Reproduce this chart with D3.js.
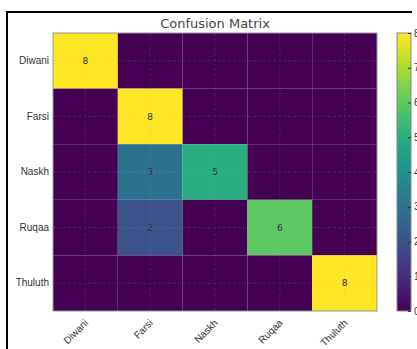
<!DOCTYPE html>
<html>
<head>
<meta charset="utf-8">
<script src="https://cdn.jsdelivr.net/npm/d3@7"></script>
<style>
body { margin: 0; background: #fff; }
svg { display: block; font-family: "DejaVu Sans", sans-serif; }
</style>
</head>
<body>
<svg id="chart" width="417" height="349"></svg>
<script>
// class labels and counts
var classes = ['Diwani', 'Farsi', 'Naskh', 'Ruqaa', 'Thuluth'];
var matrix = [
    [8, 0, 0, 0, 0],
    [0, 8, 0, 0, 0],
    [0, 3, 5, 0, 0],
    [0, 2, 0, 6, 0],
    [0, 0, 0, 0, 8]
];
var cbarTicks = [0, 1, 2, 3, 4, 5, 6, 7, 8];

var svg = d3.select('#chart');

// outer frame (top and left edges visible)
svg.append('path')
    .attr('d', 'M7,350 L7,12 L412,12')
    .attr('fill', 'none')
    .attr('stroke', '#000')
    .attr('stroke-width', 2);

var pLeft = 53, pTop = 33, pRight = 377, pBottom = 311;

var x = d3.scaleBand().domain(classes).range([pLeft, pRight]);
var y = d3.scaleBand().domain(classes).range([pTop, pBottom]);
var color = d3.scaleSequential(d3.interpolateViridis).domain([0, 8]);

var cells = [];
matrix.forEach(function(row, i) {
    row.forEach(function(v, j) {
        cells.push({ row: classes[i], col: classes[j], value: v });
    });
});

var g = svg.append('g');

g.selectAll('rect.cell')
    .data(cells)
    .enter().append('rect')
    .attr('class', 'cell')
    .attr('x', function(d) { return x(d.col); })
    .attr('y', function(d) { return y(d.row); })
    .attr('width', x.bandwidth())
    .attr('height', y.bandwidth())
    .attr('fill', function(d) { return color(d.value); });

// dashed grid through cell centres
g.selectAll('line.vgrid')
    .data(classes)
    .enter().append('line')
    .attr('x1', function(d) { return x(d) + x.bandwidth() / 2; })
    .attr('x2', function(d) { return x(d) + x.bandwidth() / 2; })
    .attr('y1', pTop).attr('y2', pBottom)
    .attr('stroke', '#b0b0b0')
    .attr('stroke-opacity', 0.22)
    .attr('stroke-dasharray', '3,2')
    .attr('stroke-width', 0.8);

g.selectAll('line.hgrid')
    .data(classes)
    .enter().append('line')
    .attr('y1', function(d) { return y(d) + y.bandwidth() / 2; })
    .attr('y2', function(d) { return y(d) + y.bandwidth() / 2; })
    .attr('x1', pLeft).attr('x2', pRight)
    .attr('stroke', '#b0b0b0')
    .attr('stroke-opacity', 0.22)
    .attr('stroke-dasharray', '3,2')
    .attr('stroke-width', 0.8);

g.selectAll('text.val')
    .data(cells)
    .enter().append('text')
    .attr('x', function(d) { return x(d.col) + x.bandwidth() / 2; })
    .attr('y', function(d) { return y(d.row) + y.bandwidth() / 2; })
    .attr('dy', '0.35em')
    .attr('text-anchor', 'middle')
    .style('font-size', '9px')
    .style('fill', function(d) { return d.value == 0 ? '#2a0a3a' : '#333'; })
    .text(function(d) { return d.value; });

// axes frame
g.append('rect')
    .attr('x', pLeft).attr('y', pTop)
    .attr('width', pRight - pLeft).attr('height', pBottom - pTop)
    .attr('fill', 'none')
    .attr('stroke', '#999')
    .attr('stroke-width', 1);

var yAxis = svg.append('g')
    .attr('transform', 'translate(' + pLeft + ',0)')
    .call(d3.axisLeft(y).tickSize(0).tickPadding(4));
yAxis.select('.domain').remove();
yAxis.selectAll('text').style('font-size', '10px').style('fill', '#333');

var xAxis = svg.append('g')
    .attr('transform', 'translate(0,' + pBottom + ')')
    .call(d3.axisBottom(x).tickSize(0).tickPadding(0));
xAxis.select('.domain').remove();
xAxis.selectAll('text')
    .style('font-size', '10px').style('fill', '#333')
    .attr('text-anchor', 'end')
    .attr('y', 0)
    .attr('dy', '0.35em')
    .attr('transform', 'translate(1,10) rotate(-45)');

svg.append('text')
    .attr('x', (pLeft + pRight) / 2)
    .attr('y', 28)
    .attr('text-anchor', 'middle')
    .style('font-size', '13px')
    .style('fill', '#444')
    .text('Confusion Matrix');

// colorbar
var cbLeft = 397, cbWidth = 14;
var defs = svg.append('defs');
var grad = defs.append('linearGradient')
    .attr('id', 'cbar')
    .attr('x1', 0).attr('y1', 1).attr('x2', 0).attr('y2', 0);
d3.range(0, 1.01, 0.1).forEach(function(t) {
    grad.append('stop')
        .attr('offset', t)
        .attr('stop-color', d3.interpolateViridis(t));
});
svg.append('rect')
    .attr('x', cbLeft).attr('y', pTop)
    .attr('width', cbWidth).attr('height', pBottom - pTop)
    .attr('fill', 'url(#cbar)')
    .attr('stroke', '#888')
    .attr('stroke-width', 1);

var cy = d3.scaleLinear().domain([0, 8]).range([pBottom, pTop]);
var cAxis = svg.append('g')
    .attr('transform', 'translate(' + (cbLeft + cbWidth) + ',0)')
    .call(d3.axisRight(cy).tickValues(cbarTicks).tickSize(-3).tickPadding(3));
cAxis.select('.domain').remove();
cAxis.selectAll('line').attr('stroke', '#333');
cAxis.selectAll('text').style('font-size', '10px').style('fill', '#333');
</script>
</body>
</html>
